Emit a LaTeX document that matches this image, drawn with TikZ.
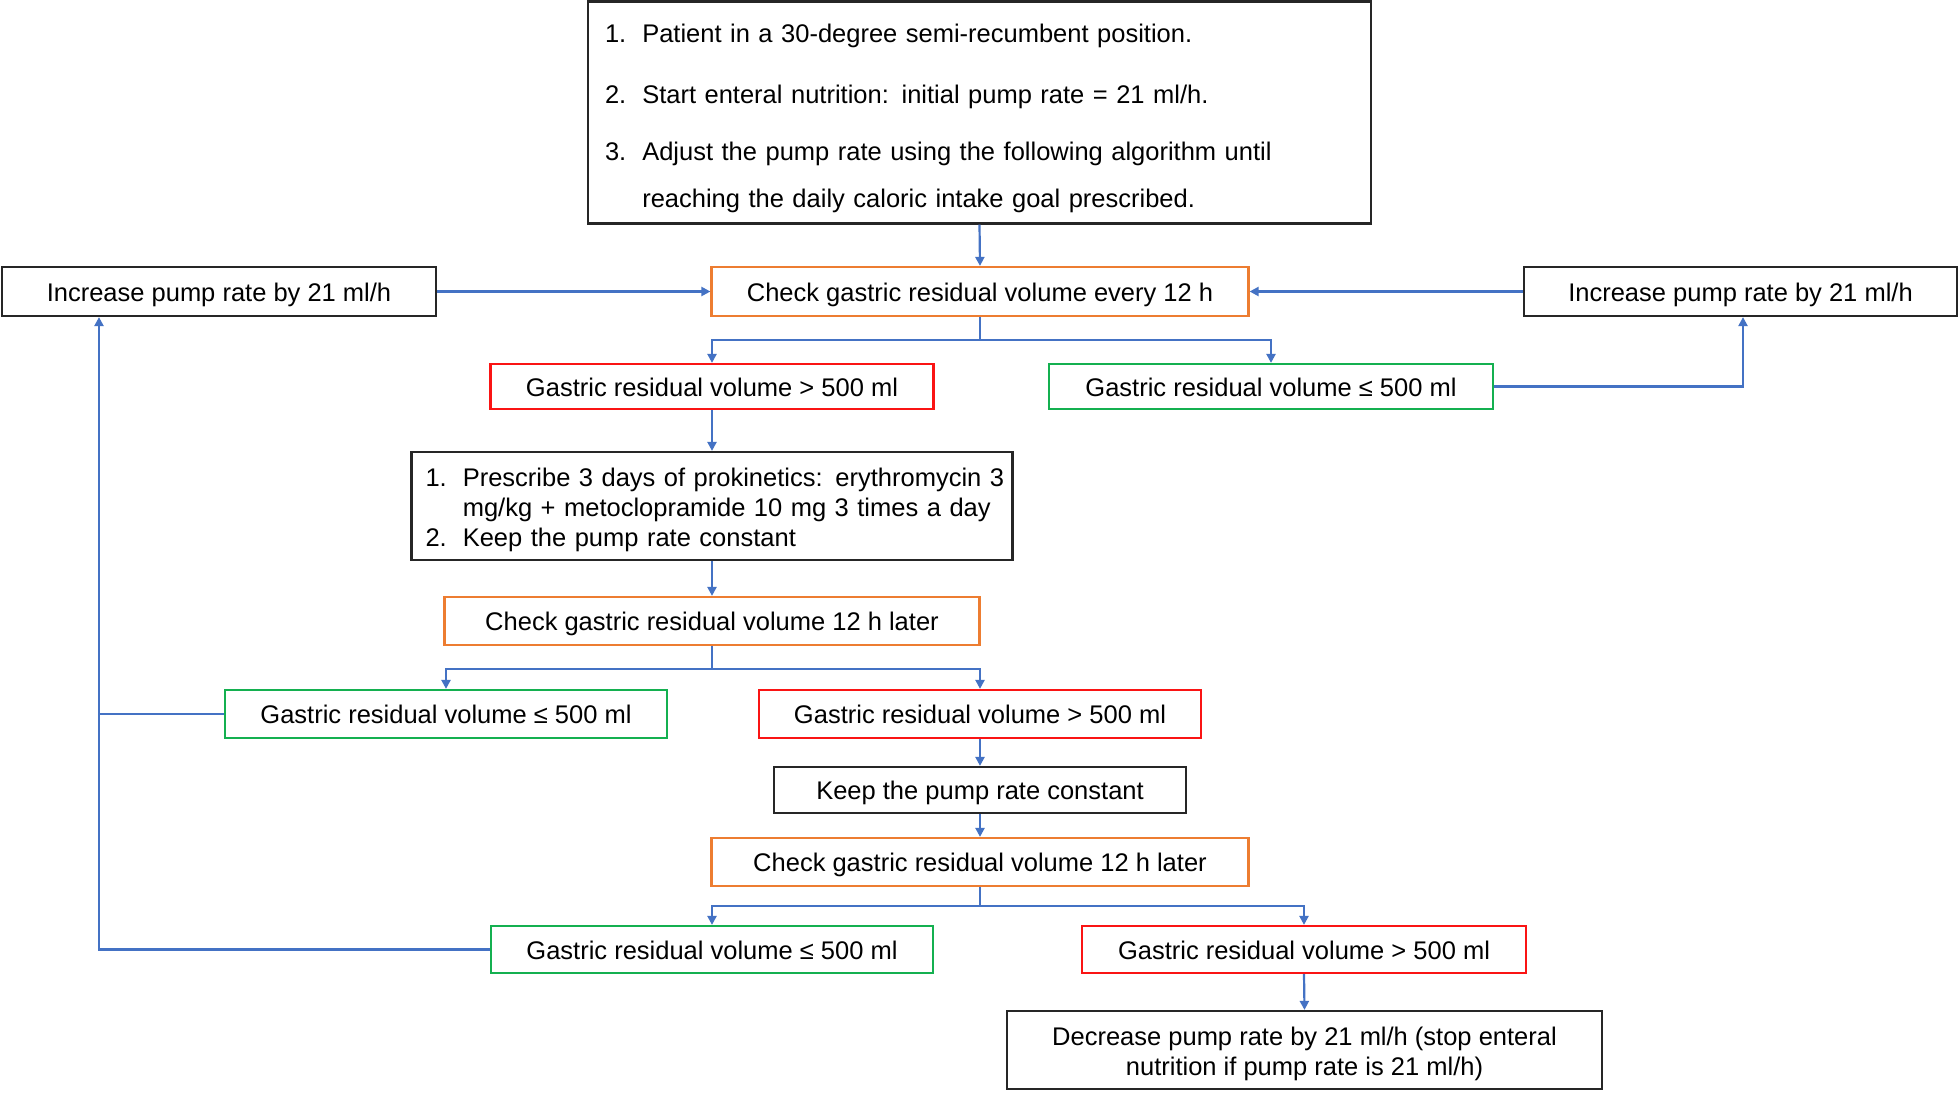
\documentclass[tikz,border=0pt]{standalone}
\usepackage{fontspec}
\setmainfont{Liberation Sans}
\usetikzlibrary{arrows.meta}
\definecolor{borange}{RGB}{237,125,49}
\definecolor{bred}{RGB}{250,20,20}
\definecolor{bgreen}{RGB}{20,176,80}
\definecolor{ablue}{RGB}{68,114,196}
\begin{document}
\begin{tikzpicture}[x=1pt,y=-1pt,
  base/.style={draw, line width=2.2pt, inner sep=0pt, font=\fontsize{25.5}{30}\selectfont, align=center},
  one/.style={text height=20.5pt, text depth=1.5pt},
  blk/.style={base, draw=black!85},
  orb/.style={base, one, draw=borange},
  rdb/.style={base, one, draw=bred},
  grb/.style={base, one, draw=bgreen},
  arr/.style={draw=ablue, line width=2.2pt, -{Triangle[width=9pt,length=9pt]}},
  ln/.style={draw=ablue, line width=2.2pt}]
\useasboundingbox[fill=white] (0,0) rectangle (1959,1092);

\node[blk, minimum width=783pt, minimum height=222pt, text width=749pt, inner xsep=17pt, align=left] (top) at (979.5,112.5)
{\begin{tabular}{@{}l@{\hspace{16pt}}l@{}}
\noalign{\vspace{13pt}}
1. & Patient in a 30-degree semi-recumbent position.\\[31pt]
2. & Start enteral nutrition: initial pump rate = 21 ml/h.\\[27pt]
3. & Adjust the pump rate using the following algorithm until\\[17.5pt]
   & reaching the daily caloric intake goal prescribed.
\end{tabular}};

\node[blk, one, minimum width=434pt, minimum height=49pt] (incL) at (219,291.5) {Increase pump rate by 21 ml/h};
\node[orb, minimum width=537pt, minimum height=49pt] (check1) at (980,291.5) {Check gastric residual volume every 12 h};
\node[blk, one, minimum width=433pt, minimum height=49pt] (incR) at (1740.5,291.5) {Increase pump rate by 21 ml/h};

\node[rdb, minimum width=443pt, minimum height=45pt] (red1) at (712,386.5) {Gastric residual volume > 500 ml};
\node[grb, minimum width=444pt, minimum height=45pt] (green1) at (1271,386.5) {Gastric residual volume ≤ 500 ml};

\node[blk, minimum width=601pt, minimum height=108pt, text width=573pt, inner xsep=14pt, align=left] (presc) at (712,506)
{\begin{tabular}{@{}l@{\hspace{16pt}}l@{}}
\noalign{\vspace{8pt}}
1. & Prescribe 3 days of prokinetics: erythromycin 3\\
   & mg/kg + metoclopramide 10 mg 3 times a day\\
2. & Keep the pump rate constant
\end{tabular}};

\node[orb, minimum width=535pt, minimum height=48pt] (check2) at (712,621) {Check gastric residual volume 12 h later};

\node[grb, minimum width=442pt, minimum height=48pt] (green2) at (446,714) {Gastric residual volume ≤ 500 ml};
\node[rdb, minimum width=442pt, minimum height=48pt] (red2) at (980,714) {Gastric residual volume > 500 ml};

\node[blk, one, minimum width=412pt, minimum height=46pt] (keep) at (980,790) {Keep the pump rate constant};
\node[orb, minimum width=537pt, minimum height=48pt] (check3) at (980,862) {Check gastric residual volume 12 h later};

\node[grb, minimum width=442pt, minimum height=47pt] (green3) at (712,949.5) {Gastric residual volume ≤ 500 ml};
\node[rdb, minimum width=444pt, minimum height=47pt] (red3) at (1304,949.5) {Gastric residual volume > 500 ml};

\node[blk, minimum width=595pt, minimum height=78pt] (decr) at (1304.5,1050)
{\begin{tabular}{@{}c@{}}
\noalign{\vspace{8pt}}
Decrease pump rate by 21 ml/h (stop enteral\\
nutrition if pump rate is 21 ml/h)
\end{tabular}};

\coordinate (lx) at (99,0);
\coordinate (rx) at (1743,0);

% connectors
\draw[arr] (top.south) -- (check1.north);
\draw[arr] (incL.east) -- (check1.west);
\draw[arr] (incR.west) -- (check1.east);
\draw[arr] (check1.south) -- ++(0,23) -| (red1.north);
\draw[arr] (check1.south) -- ++(0,23) -| (green1.north);
\draw[arr] (green1.east) -| (rx |- incR.south);
\draw[arr] (red1.south) -- (presc.north);
\draw[arr] (presc.south) -- (check2.north);
\draw[arr] (check2.south) -- ++(0,23) -| (green2.north);
\draw[arr] (check2.south) -- ++(0,23) -| (red2.north);
\draw[ln] (green2.west) -- (green2.west -| lx);
\draw[arr] (red2.south) -- (keep.north);
\draw[arr] (keep.south) -- (check3.north);
\draw[arr] (check3.south) -- ++(0,19) -| (green3.north);
\draw[arr] (check3.south) -- ++(0,19) -| (red3.north);
\draw[arr] (green3.west) -| (lx |- incL.south);
\draw[arr] (red3.south) -- (decr.north);
\end{tikzpicture}
\end{document}
